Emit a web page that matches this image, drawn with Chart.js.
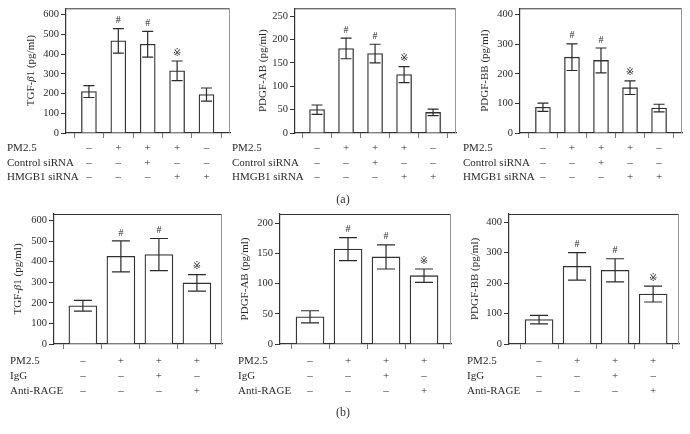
<!DOCTYPE html>
<html>
<head>
<meta charset="utf-8">
<script src="https://cdn.jsdelivr.net/npm/chart.js@4.4.1/dist/chart.umd.min.js"></script>
<style>
  html, body { margin: 0; padding: 0; background: #fff; }
  #wrap { position: relative; width: 690px; height: 434px; overflow: hidden; }
  canvas { position: absolute; }
  .lab { position: absolute; font: 12px "Liberation Serif", serif; color: #333; transform: translate(-50%, -50%); }
</style>
</head>
<body>
<div id="wrap">
  <canvas id="c1"></canvas>
  <canvas id="c2"></canvas>
  <canvas id="c3"></canvas>
  <canvas id="c4"></canvas>
  <canvas id="c5"></canvas>
  <canvas id="c6"></canvas>
  <div class="lab" style="left:343px;top:199px">(a)</div>
  <div class="lab" style="left:343px;top:412px">(b)</div>
</div>
<script>
// (a) HMGB1 siRNA experiment
const tgfA = [210, 467, 450, 315, 195];
const tgfAErr = [30, 62, 65, 50, 33];
const abA = [50, 181, 170, 125, 44];
const abAErr = [10, 22, 20, 17, 7];
const bbA = [87, 256, 245, 153, 84];
const bbAErr = [14, 45, 42, 23, 13];
const marksA = ['', '#', '#', '\u203B', ''];
const rowsA = ['PM2.5', 'Control siRNA', 'HMGB1 siRNA'];
const signsA = [
    ['\u2013', '+', '+', '+', '\u2013'],
    ['\u2013', '\u2013', '+', '\u2013', '\u2013'],
    ['\u2013', '\u2013', '\u2013', '+', '+']
];

// (b) anti-RAGE experiment
const tgfB = [186, 426, 435, 297];
const tgfBErr = [26, 75, 78, 40];
const abB = [45, 157, 144, 113];
const abBErr = [10, 19, 20, 11];
const bbB = [80, 255, 242, 164];
const bbBErr = [14, 45, 38, 26];
const marksB = ['', '#', '#', '\u203B'];
const rowsB = ['PM2.5', 'IgG', 'Anti-RAGE'];
const signsB = [
    ['\u2013', '+', '+', '+'],
    ['\u2013', '\u2013', '+', '\u2013'],
    ['\u2013', '\u2013', '\u2013', '+']
];

// y tick steps (ticks run 0 .. last step under the axis top)
const stepTgf = 100;
const stepAb = 50;
const stepBb = 100;

const SERIF = '"Liberation Serif", "DejaVu Serif", serif';
const INK = '#2a2a2a';

// title pieces: [text, italic]
const titleTgf = [['TGF-', false], ['\u03B2', true], ['1 (pg/ml)', false]];
const titleAb = [['PDGF-AB (pg/ml)', false]];
const titleBb = [['PDGF-BB (pg/ml)', false]];

const panelPlugin = {
    id: 'panel',
    afterDatasetsDraw(chart) {
        const p = chart.options.plugins.panel;
        const ctx = chart.ctx;
        const area = chart.chartArea;
        const ys = chart.scales.y;
        const meta = chart.getDatasetMeta(0);

        ctx.save();
        // box: top and right sides
        ctx.lineWidth = 1;
        ctx.strokeStyle = '#333';
        ctx.beginPath();
        ctx.moveTo(area.left, area.top + 0.5);
        ctx.lineTo(area.right, area.top + 0.5);
        ctx.stroke();
        ctx.strokeStyle = '#999';
        ctx.beginPath();
        ctx.moveTo(area.right - 0.5, area.top);
        ctx.lineTo(area.right - 0.5, area.bottom);
        ctx.stroke();

        // error bars and significance marks
        ctx.strokeStyle = INK;
        ctx.lineWidth = 1.2;
        meta.data.forEach((bar, i) => {
            const v = p.values[i];
            const e = p.errors[i];
            const yt = ys.getPixelForValue(v + e);
            const yb = ys.getPixelForValue(v - e);
            const half = p.cap / 2;
            ctx.beginPath();
            ctx.moveTo(bar.x, yt);
            ctx.lineTo(bar.x, yb);
            ctx.moveTo(bar.x - half, yt);
            ctx.lineTo(bar.x + half, yt);
            ctx.moveTo(bar.x - half, yb);
            ctx.lineTo(bar.x + half, yb);
            ctx.stroke();
            if (p.marks[i]) {
                ctx.fillStyle = INK;
                ctx.textAlign = 'center';
                ctx.textBaseline = 'middle';
                ctx.font = p.marks[i] === '#' ? '10px ' + SERIF : '10px "DejaVu Sans", sans-serif';
                ctx.fillText(p.marks[i], bar.x, yt - 8);
            }
        });

        // treatment table under the axis
        ctx.fillStyle = INK;
        ctx.font = '11px ' + SERIF;
        ctx.textBaseline = 'middle';
        p.rows.forEach((name, r) => {
            const y = area.bottom + p.rowOffsets[r];
            ctx.textAlign = 'left';
            ctx.fillText(name, p.labelX, y);
            ctx.textAlign = 'center';
            meta.data.forEach((bar, i) => {
                ctx.fillText(p.signs[r][i], bar.x, y);
            });
        });

        // rotated y title
        ctx.translate(p.titleX, (area.top + area.bottom) / 2);
        ctx.rotate(-Math.PI / 2);
        let total = 0;
        p.title.forEach(([t, it]) => {
            ctx.font = (it ? 'italic ' : '') + '11px ' + SERIF;
            total += ctx.measureText(t).width;
        });
        let x = -total / 2;
        ctx.textAlign = 'left';
        p.title.forEach(([t, it]) => {
            ctx.font = (it ? 'italic ' : '') + '11px ' + SERIF;
            ctx.fillText(t, x, 0);
            x += ctx.measureText(t).width;
        });
        ctx.restore();
    }
};

function makePanel(cfg) {
    const el = document.getElementById(cfg.id);
    const r = cfg.rect;
    el.width = r.w;
    el.height = r.h;
    el.style.left = r.x + 'px';
    el.style.top = r.y + 'px';
    el.style.width = r.w + 'px';
    el.style.height = r.h + 'px';

    const box = cfg.box;
    const yWidth = box.l - r.x;
    const xHeight = r.y + r.h - box.b;
    const n = cfg.values.length;

    return new Chart(el.getContext('2d'), {
        type: 'bar',
        data: {
            datasets: [{
                data: cfg.values.map((v, i) => ({ x: i + 1, y: v })),
                backgroundColor: '#fff',
                borderColor: '#333',
                borderWidth: 1.3,
                barThickness: cfg.barWidth
            }]
        },
        options: {
            responsive: false,
            animation: false,
            events: [],
            layout: {
                padding: { top: box.t - r.y, right: r.x + r.w - box.r, left: 0, bottom: 0 }
            },
            plugins: {
                legend: { display: false },
                tooltip: { enabled: false },
                panel: {
                    values: cfg.values,
                    errors: cfg.errors,
                    marks: cfg.marks,
                    cap: cfg.cap,
                    rows: cfg.rows,
                    signs: cfg.signs,
                    rowOffsets: cfg.rowOffsets,
                    labelX: cfg.labelX - r.x,
                    titleX: cfg.titleX - r.x,
                    title: cfg.title
                }
            },
            scales: {
                x: {
                    type: 'linear',
                    offset: false,
                    min: cfg.xMin,
                    max: n + cfg.xPadR,
                    afterBuildTicks: s => {
                        s.ticks = cfg.values.map((v, i) => ({ value: i + 1 }));
                    },
                    afterFit: s => { s.height = xHeight; },
                    grid: { drawOnChartArea: false, drawTicks: true, tickLength: 5, color: '#777' },
                    border: { color: '#333', width: 1.2 },
                    ticks: { callback: () => '', stepSize: 1 }
                },
                y: {
                    min: 0,
                    max: cfg.yMax,
                    afterBuildTicks: s => {
                        const t = [];
                        for (let v = 0; v <= cfg.yMax; v += cfg.yStep) t.push({ value: v });
                        s.ticks = t;
                    },
                    afterFit: s => { s.width = yWidth; },
                    grid: { drawOnChartArea: false, drawTicks: true, tickLength: 5, color: '#333' },
                    border: { color: '#333', width: 1.2 },
                    ticks: {
                        stepSize: cfg.yStep,
                        padding: 2,
                        color: INK,
                        font: { family: SERIF, size: 10.5 }
                    }
                }
            }
        },
        plugins: [panelPlugin]
    });
}

const rowOffA = [15, 30, 44];
const rowOffB = [17, 32, 47];

makePanel({ id: 'c1', rect: { x: 0, y: 0, w: 232, h: 195 }, box: { l: 66, t: 7, r: 230, b: 133 },
    values: tgfA, errors: tgfAErr, marks: marksA, rows: rowsA, signs: signsA, rowOffsets: rowOffA,
    yMax: 632, yStep: stepTgf, xMin: 0.22, xPadR: 0.8, barWidth: 15, cap: 11,
    labelX: 7, titleX: 31, title: titleTgf });
makePanel({ id: 'c2', rect: { x: 231, y: 0, w: 229, h: 195 }, box: { l: 295, t: 7, r: 456, b: 133 },
    values: abA, errors: abAErr, marks: marksA, rows: rowsA, signs: signsA, rowOffsets: rowOffA,
    yMax: 267, yStep: stepAb, xMin: 0.24, xPadR: 0.79, barWidth: 15, cap: 11,
    labelX: 232, titleX: 263, title: titleAb });
makePanel({ id: 'c3', rect: { x: 460, y: 0, w: 230, h: 195 }, box: { l: 520, t: 7, r: 682, b: 133 },
    values: bbA, errors: bbAErr, marks: marksA, rows: rowsA, signs: signsA, rowOffsets: rowOffA,
    yMax: 421, yStep: stepBb, xMin: 0.21, xPadR: 0.79, barWidth: 15, cap: 11,
    labelX: 463, titleX: 485, title: titleBb });

makePanel({ id: 'c4', rect: { x: 0, y: 205, w: 228, h: 229 }, box: { l: 54, t: 214, r: 222, b: 344 },
    values: tgfB, errors: tgfBErr, marks: marksB, rows: rowsB, signs: signsB, rowOffsets: rowOffB,
    yMax: 632, yStep: stepTgf, xMin: 0.24, xPadR: 0.66, barWidth: 28, cap: 18,
    labelX: 10, titleX: 18, title: titleTgf });
makePanel({ id: 'c5', rect: { x: 228, y: 205, w: 232, h: 229 }, box: { l: 280, t: 214, r: 451, b: 344 },
    values: abB, errors: abBErr, marks: marksB, rows: rowsB, signs: signsB, rowOffsets: rowOffB,
    yMax: 215, yStep: stepAb, xMin: 0.21, xPadR: 0.71, barWidth: 28, cap: 18,
    labelX: 238, titleX: 245, title: titleAb });
makePanel({ id: 'c6', rect: { x: 460, y: 205, w: 230, h: 229 }, box: { l: 509, t: 214, r: 679, b: 344 },
    values: bbB, errors: bbBErr, marks: marksB, rows: rowsB, signs: signsB, rowOffsets: rowOffB,
    yMax: 427, yStep: stepBb, xMin: 0.21, xPadR: 0.68, barWidth: 28, cap: 18,
    labelX: 467, titleX: 475, title: titleBb });
</script>
</body>
</html>
